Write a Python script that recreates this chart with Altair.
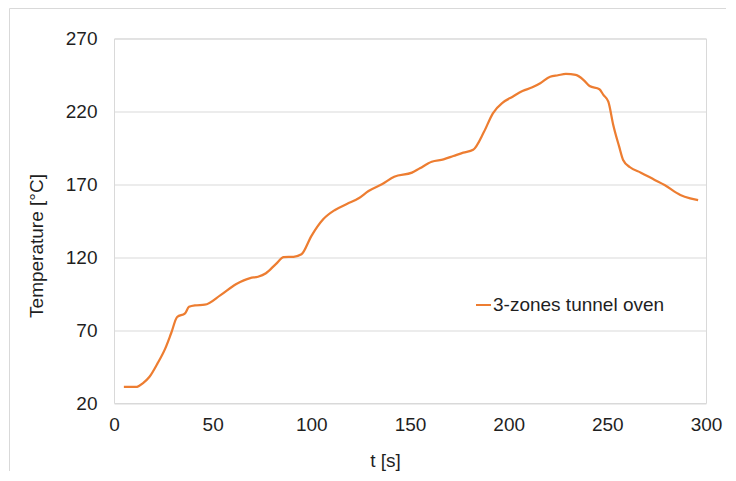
import altair as alt
import pandas as pd

series_name = "3-zones tunnel oven"

t_s = [5, 11, 15, 18, 22, 26, 29, 32, 36, 38, 41, 46, 54, 62, 69, 73, 77, 82, 86, 91,
       95, 100, 106, 112, 118, 124, 129, 136, 142, 151, 155, 161, 167, 172, 177, 182,
       187.5, 192, 197, 202, 207, 212, 216, 221, 225, 229, 234, 238, 241, 246, 248,
       250.5, 253, 256, 258, 261.5, 267, 274, 279, 287, 292, 296]
temp_c = [31, 31, 34, 38, 47, 57.5, 68, 79, 81.5, 86, 87, 87.4, 94, 101.6, 105.7, 106.6,
          109, 115.3, 120, 120.3, 122, 134.5, 146, 152.4, 156.5, 160.4, 165.4, 170.2,
          175.2, 178, 181, 185.5, 187.1, 189.4, 191.7, 193.7, 206, 218.7, 226, 230.1,
          234, 236.5, 239.3, 243.8, 244.8, 245.7, 245, 241.5, 237.4, 235.2, 231.3,
          226.7, 210.7, 195.8, 186.7, 181.7, 178, 173, 169.5, 162.7, 160.4, 159.2]

x_ticks = [0, 50, 100, 150, 200, 250, 300]
y_ticks = [20, 70, 120, 170, 220, 270]

df = pd.DataFrame({"t": t_s, "T": temp_c, "series": [series_name] * len(t_s)})

TEXT = "#1f1f1f"
FONT = "Liberation Sans"
FS = 19

line = alt.Chart(df).mark_line(strokeWidth=2.25, interpolate="monotone").encode(
    x=alt.X("t:Q",
            scale=alt.Scale(domain=[0, 300], nice=False, zero=False),
            axis=alt.Axis(values=x_ticks, title="t [s]", grid=False, domain=False,
                          ticks=False, labelPadding=12, labelFontSize=FS,
                          labelFlush=False, labelOverlap=False,
                          labelColor=TEXT, labelFont=FONT,
                          titleFontSize=FS, titleFontWeight="normal", titleColor=TEXT,
                          titleFont=FONT, titleX=271, titleY=57,
                          titleBaseline="middle", titleAlign="center")),
    y=alt.Y("T:Q",
            scale=alt.Scale(domain=[20, 270], nice=False, zero=False),
            axis=alt.Axis(values=y_ticks, title="Temperature [°C]", grid=True,
                          gridColor="#d9d9d9", gridWidth=1, domain=False, ticks=False,
                          labelPadding=17, labelFontSize=FS, labelColor=TEXT,
                          labelFlush=False, labelOverlap=False,
                          labelFont=FONT, titleFontSize=FS, titleFontWeight="normal",
                          titleColor=TEXT, titleFont=FONT, titleX=-78, titleY=207,
                          titleBaseline="middle", titleAlign="center", titleAngle=270)),
    color=alt.Color("series:N",
                    scale=alt.Scale(domain=[series_name], range=["#ED7D31"]),
                    legend=alt.Legend(title=None, orient="none", legendX=360,
                                      legendY=257, symbolType="stroke",
                                      symbolSize=225, symbolStrokeWidth=2,
                                      labelFontSize=FS, labelColor=TEXT,
                                      labelFont=FONT, labelOffset=0, labelLimit=0,
                                      padding=0)),
)

border = alt.Chart(alt.Data(values=[{}])).mark_rect(
    fill="transparent", stroke="#d9d9d9", strokeWidth=1
).encode(
    x=alt.value(-104.5), x2=alt.value(700), y=alt.value(-30), y2=alt.value(500)
)

chart = alt.layer(border, line).properties(
    width=592, height=364.5,
    autosize=alt.AutoSizeParams(type="none"),
    padding={"left": 106, "top": 30.5, "right": 20, "bottom": 68},
    background="white",
).configure_view(stroke="#d9d9d9", strokeWidth=1)

chart.save("out.html", embed_options={"renderer": "svg", "actions": False})
